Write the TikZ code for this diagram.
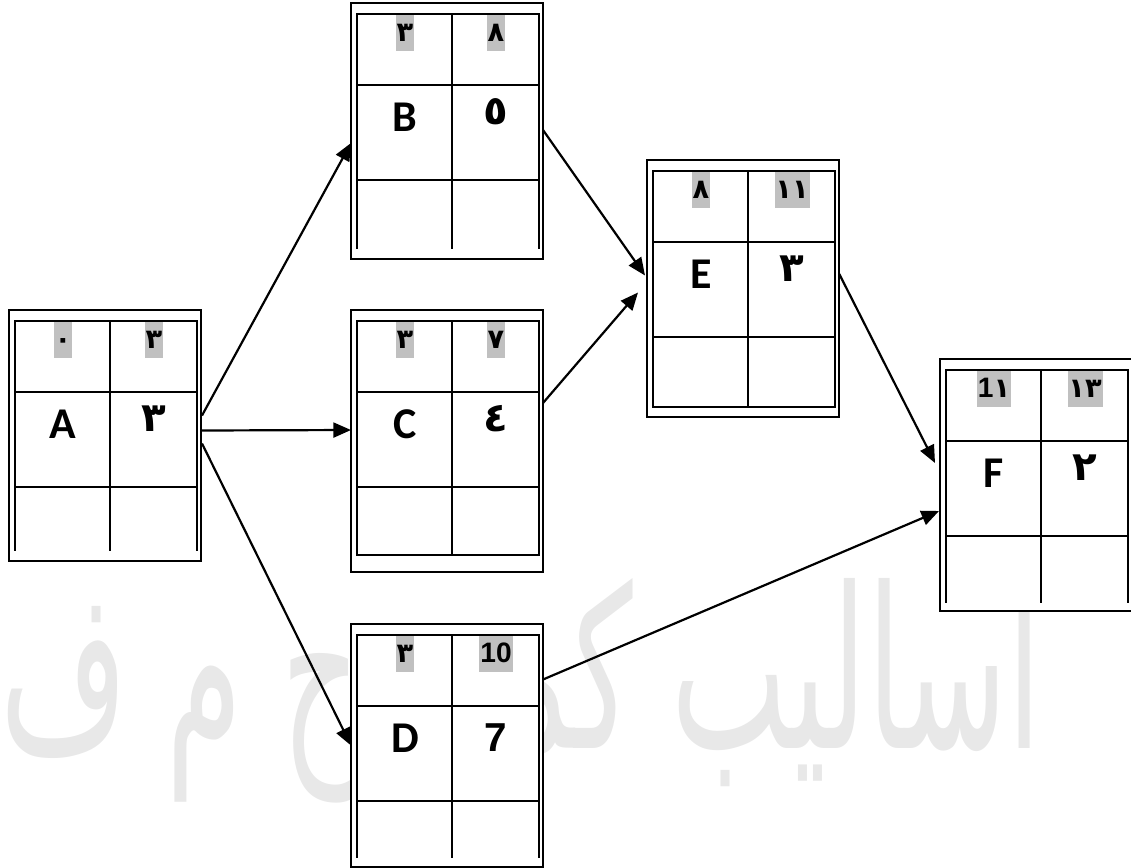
\documentclass[tikz,border=0pt]{standalone}
\usepackage{fontspec}
\setmainfont{Carlito}
\newfontfamily\arabicfont[Script=Arabic]{DejaVu Sans}
\newfontfamily\arialfont{Liberation Sans}
\TeXXeTstate=1
\usetikzlibrary{calc,arrows.meta,positioning}

\definecolor{hl}{HTML}{C0C0C0}
\definecolor{wmark}{HTML}{E8E8E8}

\tikzset{
    actbox/.style={draw, fill=white, line width=2.6pt, minimum width=76.8mm,
        inner sep=0pt, outer sep=0pt, anchor=north west},
    cellline/.style={line width=2.6pt, line cap=rect},
    timecell/.style={fill=hl, anchor=north, inner xsep=1pt, inner ysep=0pt,
        text height=10.4mm, text depth=4mm,
        font=\arabicfont\bfseries\fontsize{31}{31}\selectfont},
    actname/.style={anchor=base, font=\bfseries\fontsize{50}{50}\selectfont},
    actdur/.style={anchor=base, font=\arabicfont\bfseries\fontsize{46}{46}\selectfont},
    arr/.style={-{Triangle[length=20pt,width=17pt]}, line width=2.5pt},
    watermark/.style={anchor=base west, inner sep=0pt, text=wmark},
}

% name, left, top, height, early start, early finish, activity, duration, bottom inset
\newcommand{\netbox}[9]{%
    \node[actbox, minimum height=#4*0.4mm] (#1) at (#2,#3) {};
    \draw[cellline] ($(#1.south west)+(6,-#9)$) |- ($(#1.north west)+(188,11)$)
        -- ($(#1.south west)+(188,-#9)$);
    \draw[cellline] ($(#1.north west)+(101,11)$) -- ($(#1.south west)+(101,-#9)$);
    \draw[cellline] ($(#1.north west)+(6,82)$) -- ++(182,0);
    \draw[cellline] ($(#1.north west)+(6,177)$) -- ++(182,0);
    \node[timecell] (#1-es) at ($(#1.north west)+(54,12)$) {#5};
    \node[timecell] (#1-ef) at ($(#1.north west)+(145,12)$) {#6};
    \node[actname] (#1-name) at ($(#1.north west)+(54,128)$) {#7};
    \node[actdur] (#1-dur) at ($(#1.north west)+(145,121)$) {#8};
}

\begin{document}
\begin{tikzpicture}[x=0.4mm, y=-0.4mm]
    \useasboundingbox (0,0) rectangle (1131,867);

    \node[watermark] (mark) at (0,748)
        {\resizebox{416mm}{68mm}{\arabicfont\beginR اساليب كمية ح م ف\endR}};

    \netbox{A}{9}{310}{251}{٠}{٣}{A}{٣}{11}
    \netbox{B}{351}{3}{256}{٣}{٨}{B}{٥}{11}
    \netbox{C}{351}{310}{262}{٣}{٧}{C}{٤}{17}
    \netbox{D}{351}{624}{243}{٣}{{\arialfont\fontsize{32}{32}\selectfont 10}}{D}%
        {{\arialfont\fontsize{46}{46}\selectfont\raisebox{-7.5pt}{7}}}{10}
    \netbox{E}{647}{160}{257}{٨}{١١}{E}{٣}{10}
    \netbox{F}{940}{359}{252}{{\arialfont\fontsize{32}{32}\selectfont 1}١}{١٣}{F}{٢}{9}

    % closed bottom rows
    \draw[cellline] ($(C.south west)+(6,-17)$) -- ++(182,0);
    \draw[cellline] ($(E.south west)+(6,-10)$) -- ++(182,0);

    \draw[arr] ($(A.east)+(1,-20)$) -- ($(B.west)+(0,12)$);
    \draw[arr] ($(A.east)+(1,-5)$) -- ($(C.west)+(0,-11)$);
    \draw[arr] ($(A.east)+(1,8)$) -- (D.west);
    \draw[arr] ($(B.east)+(0,-1)$) -- ($(E.west)+(-2,-13)$);
    \draw[arr] ($(C.east)+(0,-38)$) -- ($(E.west)+(-9,4)$);
    \draw[arr] ($(E.east)+(0,-15)$) -- ($(F.west)+(-5,-22)$);
    \draw[arr] ($(D.east)+(0,-66)$) -- ($(F.west)+(-1,26)$);
\end{tikzpicture}
\end{document}
